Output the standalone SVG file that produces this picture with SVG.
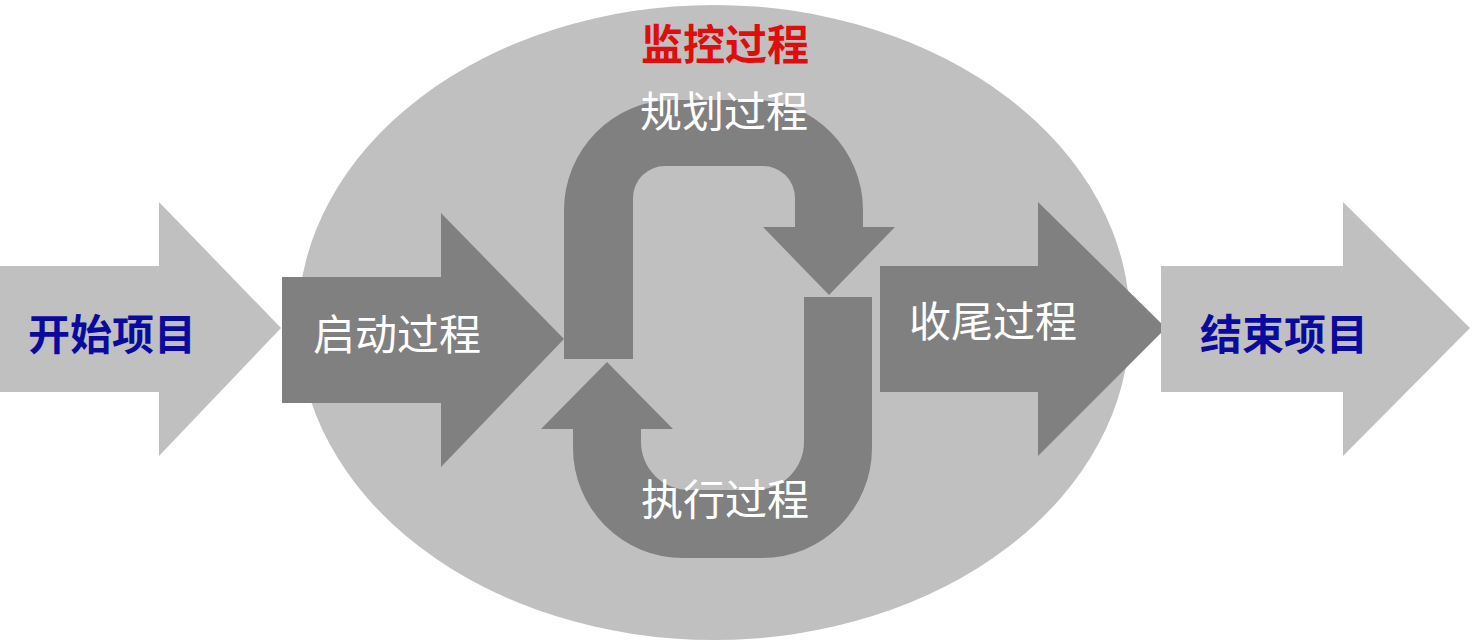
<svg xmlns="http://www.w3.org/2000/svg" width="1472" height="642" viewBox="0 0 1472 642">
  <style>
    .light { fill: #c0c0c1; }
    .dark { fill: #808080; }
    text { font-family: "Noto Sans CJK SC", "Noto Sans", sans-serif; font-size: 42px; text-anchor: middle; }
    .blue { fill: #0a0a9e; font-weight: bold; }
    .red { fill: #e00d0d; font-weight: bold; }
    .white { fill: #ffffff; }
  </style>
  <rect width="1472" height="642" fill="#ffffff"/>

  <g id="monitor">
    <ellipse class="light" cx="714" cy="322.5" rx="416" ry="317.5"/>
    <text class="red" x="725" y="60">监控过程</text>
  </g>

  <g id="start">
    <polygon class="light" points="0,266 159,266 159,202 281,328 159,456 159,392 0,392"/>
    <text class="blue" x="112" y="350">开始项目</text>
  </g>

  <g id="initiate">
    <polygon class="dark" points="282,277 441,277 441,213 564,339 441,467 441,403 282,403"/>
    <text class="white" x="397" y="350">启动过程</text>
  </g>

  <g id="planning">
    <path class="dark" d="M564,359 L564,210 A110,110 0 0 1 674,100 L753,100 A110,110 0 0 1 863,210 L863,227 L895,227 L829,295 L763,227 L795,227 L795,198 A32,32 0 0 0 763,166 L665,166 A32,32 0 0 0 633,198 L633,359 Z"/>
    <text class="white" x="724" y="127">规划过程</text>
  </g>

  <g id="executing">
    <path class="dark" d="M804,297 L872,297 L872,448 A110,110 0 0 1 762,558 L683,558 A110,110 0 0 1 573,448 L573,429 L541,429 L607,362 L673,429 L641,429 L641,442 A48,48 0 0 0 689,490 L756,490 A48,48 0 0 0 804,442 Z"/>
    <text class="white" x="725" y="515">执行过程</text>
  </g>

  <g id="closing">
    <polygon class="dark" points="880,266 1038,266 1038,202 1166,328 1038,456 1038,392 880,392"/>
    <text class="white" x="993" y="337">收尾过程</text>
  </g>

  <g id="finish">
    <polygon class="light" points="1161,266 1343,266 1343,202 1470,328 1343,456 1343,392 1161,392"/>
    <text class="blue" x="1284" y="350">结束项目</text>
  </g>

  <g id="connectors"></g>
</svg>
